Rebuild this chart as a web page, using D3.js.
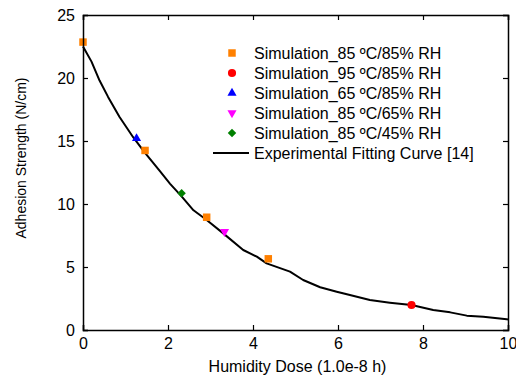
<!DOCTYPE html>
<html><head><meta charset="utf-8">
<script src="https://cdn.jsdelivr.net/npm/d3@7"></script>
<style>body{margin:0;background:#fff}svg{display:block}text{font-family:"Liberation Sans",Arial,sans-serif}</style>
</head><body><svg id="c" width="516" height="385"></svg>
<script>
// ---- data ----
const xTicks = [0, 2, 4, 6, 8, 10];
const yTicks = [0, 5, 10, 15, 20, 25];
const sim85_85_x = [0, 1.46, 2.91, 4.36];
const sim85_85_y = [22.85, 14.25, 8.95, 5.65];
const sim95_85_x = [7.73];
const sim95_85_y = [1.98];
const sim65_85_x = [1.26];
const sim65_85_y = [15.2];
const sim85_65_x = [3.33];
const sim85_65_y = [7.8];
const sim85_45_x = [2.32];
const sim85_45_y = [10.85];
const fitX = [0, 0.2, 0.39, 0.59, 0.86, 1.18, 1.45, 1.81, 2.05, 2.32, 2.6, 2.91, 3.3, 3.77, 4.09, 4.32, 4.87, 5.18, 5.58, 5.97, 6.28, 6.75, 7.22, 7.73, 8.24, 8.64, 9.03, 9.42, 9.97, 10];
const fitY = [22.5, 21.3, 19.8, 18.5, 16.9, 15.3, 14.1, 12.6, 11.6, 10.6, 9.5, 8.73, 7.67, 6.35, 5.82, 5.29, 4.63, 3.97, 3.39, 3.04, 2.78, 2.38, 2.17, 1.98, 1.59, 1.4, 1.14, 1.06, 0.85, 0.83];
const legendLabels = ["Simulation_85 ºC/85% RH", "Simulation_95 ºC/85% RH", "Simulation_65 ºC/85% RH", "Simulation_85 ºC/65% RH", "Simulation_85 ºC/45% RH", "Experimental Fitting Curve [14]"];

// ---- chart ----
const svg = d3.select("#c");
const L = 83, R = 508, T = 15, B = 330;
const x = d3.scaleLinear().domain([0, 10]).range([L, R]);
const y = d3.scaleLinear().domain([0, 25]).range([B, T]);

const series = [
  {xs: sim85_85_x, ys: sim85_85_y, color: "#ff8000", type: d3.symbolSquare, size: 56, rot: 0},
  {xs: sim95_85_x, ys: sim95_85_y, color: "#ff0000", type: d3.symbolCircle, size: 52, rot: 0},
  {xs: sim65_85_x, ys: sim65_85_y, color: "#0000ff", type: d3.symbolTriangle, size: 36, rot: 0},
  {xs: sim85_65_x, ys: sim85_65_y, color: "#ff00ff", type: d3.symbolTriangle, size: 36, rot: 180},
  {xs: sim85_45_x, ys: sim85_45_y, color: "#008000", type: d3.symbolSquare, size: 36, rot: 45},
];

// fitting curve
const pts = fitX.map((v, i) => [v, fitY[i]]);
svg.append("path").datum(pts)
  .attr("d", d3.line().x(d => x(d[0])).y(d => y(d[1])).curve(d3.curveLinear))
  .attr("fill", "none").attr("stroke", "#000").attr("stroke-width", 2).attr("stroke-linejoin", "round");

// markers
series.forEach(s => {
  s.xs.forEach((v, i) => {
    svg.append("path")
      .attr("d", d3.symbol().type(s.type).size(s.size)())
      .attr("transform", `translate(${x(v)},${y(s.ys[i])}) rotate(${s.rot})`)
      .attr("fill", s.color);
  });
});

// axes
const fs = "16px";
const ax = svg.append("g").attr("transform", `translate(0,${B})`).call(d3.axisBottom(x).tickValues(xTicks).tickSize(-5).tickPadding(8).tickFormat(d3.format("d")));
const axT = svg.append("g").attr("transform", `translate(0,${T})`).call(d3.axisTop(x).tickValues(xTicks).tickSize(-5).tickFormat(""));
const ay = svg.append("g").attr("transform", `translate(${L},0)`).call(d3.axisLeft(y).tickValues(yTicks).tickSize(-5).tickPadding(6).tickFormat(d3.format("d")));
const ayR = svg.append("g").attr("transform", `translate(${R},0)`).call(d3.axisRight(y).tickValues(yTicks).tickSize(-5).tickFormat(""));
[ax, axT, ay, ayR].forEach(g => {
  g.select(".domain").attr("stroke", "#000").attr("stroke-width", 1.5);
  g.selectAll(".tick line").attr("stroke", "#000").attr("stroke-width", 1.2);
  g.selectAll("text").attr("font-size", fs).attr("fill", "#000").attr("font-family", "Liberation Sans, Arial, sans-serif");
});
ay.selectAll("text").attr("dx", "-2");

// axis titles
svg.append("text").attr("x", (L + R) / 2 + 2).attr("y", 372).attr("text-anchor", "middle")
  .attr("font-size", "16px").text("Humidity Dose (1.0e-8 h)");
svg.append("text").attr("transform", `translate(26,158) rotate(-90)`).attr("text-anchor", "middle")
  .attr("font-size", "14px").text("Adhesion Strength (N/cm)");

// legend
const lx = 232, ly0 = 53, dy = 20;
legendLabels.forEach((lab, i) => {
  const yy = ly0 + i * dy;
  if (i < series.length) {
    const s = series[i];
    svg.append("path").attr("d", d3.symbol().type(s.type).size(s.size)())
      .attr("transform", `translate(${lx},${yy}) rotate(${s.rot})`).attr("fill", s.color);
  } else {
    svg.append("line").attr("x1", 213).attr("x2", 249).attr("y1", yy).attr("y2", yy)
      .attr("stroke", "#000").attr("stroke-width", 2);
  }
  svg.append("text").attr("x", 254).attr("y", yy).attr("dy", "0.36em")
    .attr("font-size", "16px").text(lab);
});
</script></body></html>
